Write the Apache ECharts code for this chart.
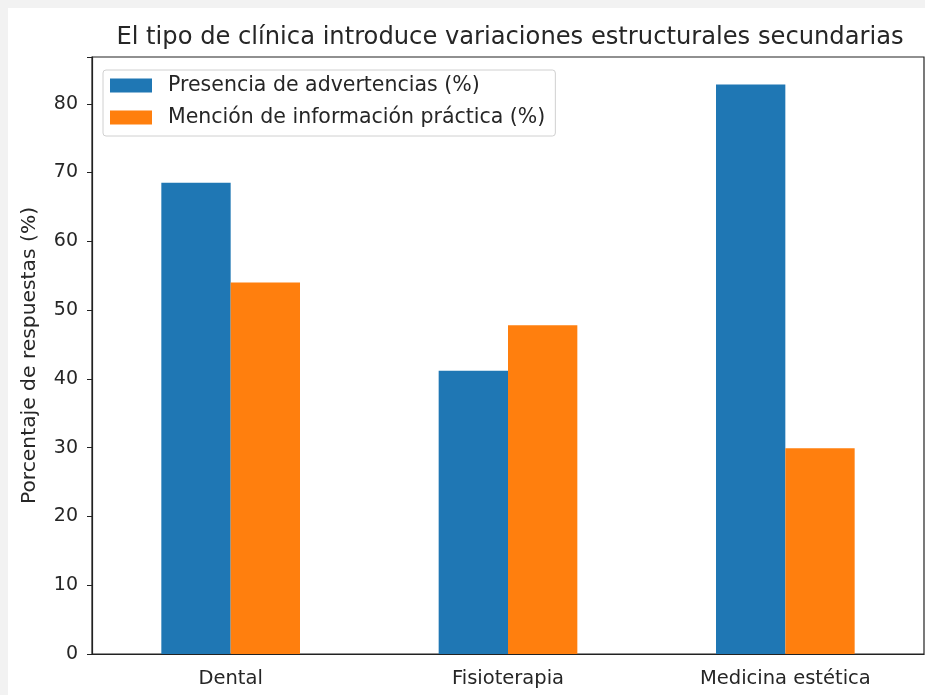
<!DOCTYPE html>
<html>
<head>
<meta charset="utf-8">
<script src="https://cdn.jsdelivr.net/npm/echarts@6/dist/echarts.min.js"></script>
<style>
  html, body { margin: 0; padding: 0; background: #f2f2f2; }
  #chart { width: 925px; height: 695px; }
</style>
</head>
<body>
<div id="chart"></div>
<script>
  var categories = ['Dental', 'Fisioterapia', 'Medicina estética'];
  var advertencias = [68.5, 41.2, 82.8];
  var infoPractica = [54.0, 47.8, 29.9];
  var yTicks = [0, 10, 20, 30, 40, 50, 60, 70, 80];

  var textColor = '#262626';
  var chart = echarts.init(document.getElementById('chart'));

  var option = {
    backgroundColor: '#f2f2f2',
    animation: false,
    graphic: [{
      type: 'rect',
      z: -10,
      shape: { x: 8, y: 8, width: 917, height: 687 },
      style: { fill: '#ffffff' }
    }],
    title: {
      text: 'El tipo de clínica introduce variaciones estructurales secundarias',
      left: 505,
      textAlign: 'center',
      top: 21,
      textStyle: {
        fontFamily: 'DejaVu Sans',
        fontSize: 24.2,
        fontWeight: 'normal',
        color: textColor
      }
    },
    legend: {
      orient: 'vertical',
      left: 103,
      top: 70,
      icon: 'rect',
      itemWidth: 42,
      itemHeight: 14,
      itemGap: 11,
      padding: [5, 10, 8, 7],
      borderColor: '#d0d0d0',
      borderWidth: 1,
      borderRadius: 3,
      backgroundColor: 'rgba(255,255,255,0.8)',
      textStyle: {
        fontFamily: 'DejaVu Sans',
        fontSize: 20.5,
        color: textColor,
        padding: [0, 0, 0, 11]
      },
      data: ['Presencia de advertencias (%)', 'Mención de información práctica (%)']
    },
    grid: {
      left: 92,
      right: 1,
      top: 57,
      bottom: 41,
      show: true,
      borderColor: '#222',
      borderWidth: 1.2,
      backgroundColor: '#ffffff'
    },
    xAxis: {
      type: 'category',
      data: categories,
      axisLine: { lineStyle: { color: '#222', width: 1.2 } },
      axisTick: { alignWithLabel: true, length: 5, lineStyle: { color: '#222' } },
      axisLabel: {
        fontFamily: 'DejaVu Sans',
        fontSize: 19.5,
        color: textColor,
        margin: 15
      }
    },
    yAxis: {
      type: 'value',
      min: 0,
      max: 86.8,
      interval: 10,
      name: 'Porcentaje de respuestas (%)',
      nameLocation: 'middle',
      nameGap: 52,
      nameTextStyle: {
        fontFamily: 'DejaVu Sans',
        fontSize: 20.3,
        color: textColor
      },
      splitLine: { show: false },
      axisLine: { show: true, lineStyle: { color: '#222', width: 1.2 } },
      axisTick: { show: true, length: 5, lineStyle: { color: '#222' } },
      axisLabel: {
        fontFamily: 'DejaVu Sans',
        fontSize: 19,
        color: textColor,
        margin: 14,
        formatter: function (v) {
          return yTicks.indexOf(v) >= 0 ? String(v) : '';
        }
      }
    },
    series: [
      {
        name: 'Presencia de advertencias (%)',
        type: 'bar',
        data: advertencias,
        barWidth: '25%',
        barGap: '0%',
        itemStyle: { color: '#1f77b4' }
      },
      {
        name: 'Mención de información práctica (%)',
        type: 'bar',
        data: infoPractica,
        barWidth: '25%',
        barGap: '0%',
        itemStyle: { color: '#ff7f0e' }
      }
    ]
  };

  chart.setOption(option, true);
</script>
</body>
</html>
